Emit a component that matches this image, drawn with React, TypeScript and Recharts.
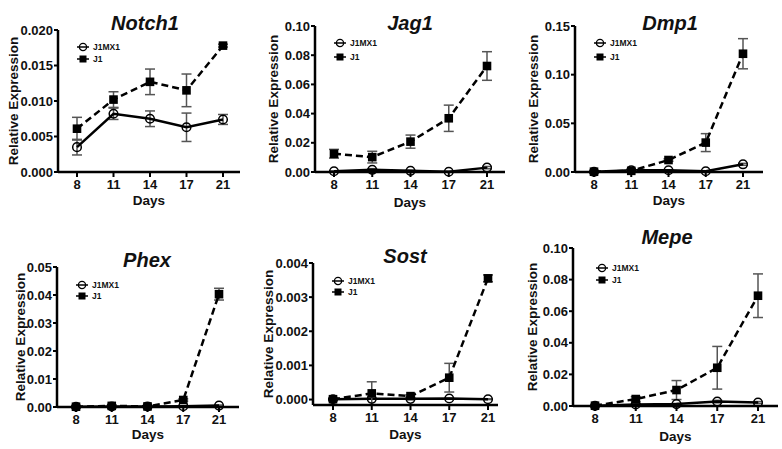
import React from "react";
import { LineChart, Line, XAxis, YAxis, ErrorBar, Legend } from "recharts";

const FONT = '"Liberation Sans", Arial, Helvetica, sans-serif';

const days = ["8", "11", "14", "17", "21"];
const seriesNames = ["J1MX1", "J1"];

// Notch1
const notch1Mx = [0.0035, 0.0082, 0.0075, 0.0063, 0.0074];
const notch1MxErr = [0.0011, 0.0008, 0.0011, 0.002, 0.0007];
const notch1J1 = [0.0061, 0.0102, 0.0127, 0.0115, 0.0178];
const notch1J1Err = [0.0016, 0.0011, 0.0018, 0.0023, 0.0002];

// Jag1
const jag1Mx = [0.0005, 0.0015, 0.0008, 0.0002, 0.003];
const jag1MxErr = [0.0003, 0.0008, 0.0004, 0.0002, 0.0008];
const jag1J1 = [0.0125, 0.0102, 0.0208, 0.0368, 0.0726];
const jag1J1Err = [0.003, 0.004, 0.0045, 0.009, 0.0098];

// Dmp1
const dmp1Mx = [0.0002, 0.0018, 0.0018, 0.0008, 0.0079];
const dmp1MxErr = [0.0002, 0.0005, 0.0005, 0.0003, 0.001];
const dmp1J1 = [0.0003, 0.0012, 0.0123, 0.0302, 0.1215];
const dmp1J1Err = [0.0002, 0.0006, 0.0012, 0.0092, 0.0155];

// Phex
const phexMx = [0.0001, 0.0002, 0.0002, 0.0003, 0.0005];
const phexMxErr = [0.0001, 0.0001, 0.0001, 0.0001, 0.0002];
const phexJ1 = [0.0001, 0.0004, 0.0002, 0.0025, 0.0403];
const phexJ1Err = [0.0001, 0.0002, 0.0001, 0.0004, 0.0021];

// Sost
const sostMx = [0.00001, 0.00002, 0.00002, 0.00003, 0.00001];
const sostMxErr = [0.00001, 0.00001, 0.00001, 0.00001, 0.00001];
const sostJ1 = [0.00001, 0.00018, 0.0001, 0.00064, 0.00355];
const sostJ1Err = [0.00001, 0.00034, 0.00004, 0.00042, 0.0001];

// Mepe
const mepeMx = [0.0001, 0.001, 0.0012, 0.0028, 0.0022];
const mepeMxErr = [0.0001, 0.0004, 0.0004, 0.0008, 0.0006];
const mepeJ1 = [0.0002, 0.0044, 0.0101, 0.0242, 0.0698];
const mepeJ1Err = [0.0001, 0.0015, 0.006, 0.0135, 0.0138];

const buildRows = (mx: number[], mxErr: number[], j1: number[], j1Err: number[]) =>
  days.map((d, i) => ({ day: d, mx: mx[i], mxErr: mxErr[i], j1: j1[i], j1Err: j1Err[i] }));

const panels = [
  {
    gene: "Notch1", rows: buildRows(notch1Mx, notch1MxErr, notch1J1, notch1J1Err),
    ticks: [0, 0.005, 0.01, 0.015, 0.02], dec: 3,
    box: { x: 0, y: 0, w: 260, h: 225 }, plot: { l: 58, r: 240, t: 30, b: 172 }, pad: [19, 17],
    title: [145, 23], yLab: 13, daysY: 200, legend: [83, 47, 12],
  },
  {
    gene: "Jag1", rows: buildRows(jag1Mx, jag1MxErr, jag1J1, jag1J1Err),
    ticks: [0, 0.02, 0.04, 0.06, 0.08, 0.1], dec: 2,
    box: { x: 260, y: 0, w: 260, h: 225 }, plot: { l: 55, r: 245, t: 26, b: 172 }, pad: [19, 18],
    title: [150, 23], yLab: 13, daysY: 202, legend: [80, 43, 14],
  },
  {
    gene: "Dmp1", rows: buildRows(dmp1Mx, dmp1MxErr, dmp1J1, dmp1J1Err),
    ticks: [0, 0.05, 0.1, 0.15], dec: 2,
    box: { x: 520, y: 0, w: 262, h: 225 }, plot: { l: 55, r: 243, t: 26, b: 172 }, pad: [19, 20],
    title: [150, 23], yLab: 13, daysY: 200, legend: [80, 43, 14],
  },
  {
    gene: "Phex", rows: buildRows(phexMx, phexMxErr, phexJ1, phexJ1Err),
    ticks: [0, 0.01, 0.02, 0.03, 0.04, 0.05], dec: 2,
    box: { x: 0, y: 225, w: 260, h: 224 }, plot: { l: 57, r: 239, t: 42, b: 182 }, pad: [19, 20],
    title: [147, 35], yLab: 20, daysY: 209, legend: [82, 60, 11],
  },
  {
    gene: "Sost", rows: buildRows(sostMx, sostMxErr, sostJ1, sostJ1Err),
    ticks: [0, 0.001, 0.002, 0.003, 0.004], dec: 3,
    box: { x: 260, y: 225, w: 260, h: 224 }, plot: { l: 53, r: 238, t: 38, b: 180 }, pad: [20, 10],
    title: [145, 31], yLab: 8, daysY: 209, legend: [78, 56, 11],
  },
  {
    gene: "Mepe", rows: buildRows(mepeMx, mepeMxErr, mepeJ1, mepeJ1Err),
    ticks: [0, 0.02, 0.04, 0.06, 0.08, 0.1], dec: 2,
    box: { x: 520, y: 225, w: 262, h: 224 }, plot: { l: 53, r: 258, t: 23, b: 181 }, pad: [22, 20],
    title: [147, 12], yLab: 12, daysY: 211, legend: [82, 43, 12],
  },
];

const squareDot = (props: any) => {
  const { cx, cy, index } = props;
  if (cx == null || cy == null) return <g key={`sq-${index}`} />;
  return <rect key={`sq-${index}`} x={cx - 4.3} y={cy - 4.3} width={8.6} height={8.6} fill="#000" />;
};

const circleDot = (props: any) => {
  const { cx, cy, index } = props;
  if (cx == null || cy == null) return <g key={`ci-${index}`} />;
  return <circle key={`ci-${index}`} cx={cx} cy={cy} r={4.3} fill="none" stroke="#000" strokeWidth={1.5} />;
};

const makeLegend = (rowH: number) => () => (
  <div style={{ display: "flex", flexDirection: "column", fontFamily: FONT }}>
    {seriesNames.map((name, i) => (
      <div key={name} style={{ display: "flex", alignItems: "center", height: rowH }}>
        <svg width={12} height={10}>
          <line x1={0} y1={5} x2={12} y2={5} stroke="#000" strokeWidth={1.5} />
          {i === 0 ? (
            <circle cx={6} cy={5} r={3.6} fill="none" stroke="#000" strokeWidth={1.3} />
          ) : (
            <rect x={2.5} y={1.5} width={7} height={7} fill="#000" />
          )}
        </svg>
        <span style={{ marginLeft: 4, fontSize: 8.5, fontWeight: "bold", color: "#111" }}>{name}</span>
      </div>
    ))}
  </div>
);

const tickStyle = { fontSize: 13, fontWeight: "bold", fill: "#111", fontFamily: FONT };
const labelStyle = { fontSize: 13.5, fontWeight: "bold", fill: "#111", fontFamily: FONT, textAnchor: "middle" as const };

const Panel = ({ p }: { p: (typeof panels)[number] }) => {
  const { box, plot } = p;
  const xAxisHeight = p.daysY + 5 - plot.b;
  const marginBottom = box.h - plot.b - xAxisHeight;
  const [lx, ly, rowH] = p.legend;
  return (
    <div style={{ position: "absolute", left: box.x, top: box.y, width: box.w, height: box.h }}>
      <LineChart
        width={box.w}
        height={box.h}
        data={p.rows}
        margin={{ top: plot.t, right: box.w - plot.r, bottom: marginBottom, left: 0 }}
      >
        <XAxis
          dataKey="day"
          padding={{ left: p.pad[0], right: p.pad[1] }}
          height={xAxisHeight}
          axisLine={{ stroke: "#000", strokeWidth: 2.5 }}
          tickLine={{ stroke: "#000", strokeWidth: 2 }}
          tickSize={5}
          tickMargin={3}
          tick={tickStyle}
          interval={0}
          label={{ value: "Days", position: "insideBottom", offset: 0, style: labelStyle }}
        />
        <YAxis
          width={plot.l}
          domain={[0, p.ticks[p.ticks.length - 1]]}
          ticks={p.ticks}
          interval={0}
          tickFormatter={(v: number) => v.toFixed(p.dec)}
          axisLine={{ stroke: "#000", strokeWidth: 2.5 }}
          tickLine={{ stroke: "#000", strokeWidth: 2 }}
          tickSize={4}
          tickMargin={1}
          tick={tickStyle}
          label={{ value: "Relative Expression", angle: -90, position: "insideLeft", offset: p.yLab, style: labelStyle }}
        />
        <Legend
          layout="vertical"
          align="center"
          verticalAlign="middle"
          content={makeLegend(rowH)}
          wrapperStyle={{ left: lx - 6, top: ly - rowH / 2, width: "auto", height: "auto" }}
        />
        <Line
          name="J1MX1"
          dataKey="mx"
          stroke="#000"
          strokeWidth={2.5}
          dot={circleDot}
          activeDot={false}
          isAnimationActive={false}
        >
          <ErrorBar dataKey="mxErr" direction="y" width={5} stroke="#555" strokeWidth={1.5} />
        </Line>
        <Line
          name="J1"
          dataKey="j1"
          stroke="#000"
          strokeWidth={2.5}
          strokeDasharray="7 4"
          dot={squareDot}
          activeDot={false}
          isAnimationActive={false}
        >
          <ErrorBar dataKey="j1Err" direction="y" width={5} stroke="#555" strokeWidth={1.5} />
        </Line>
      </LineChart>
      <div
        style={{
          position: "absolute",
          left: p.title[0] - 70,
          top: p.title[1] - 12,
          width: 140,
          lineHeight: "24px",
          textAlign: "center",
          fontFamily: FONT,
          fontSize: 20,
          fontWeight: "bold",
          fontStyle: "italic",
          color: "#111",
        }}
      >
        {p.gene}
      </div>
    </div>
  );
};

export default function App() {
  return (
    <div style={{ position: "absolute", left: 0, top: 0, width: 782, height: 449, background: "#fff" }}>
      {panels.map((p) => (
        <Panel key={p.gene} p={p} />
      ))}
    </div>
  );
}
